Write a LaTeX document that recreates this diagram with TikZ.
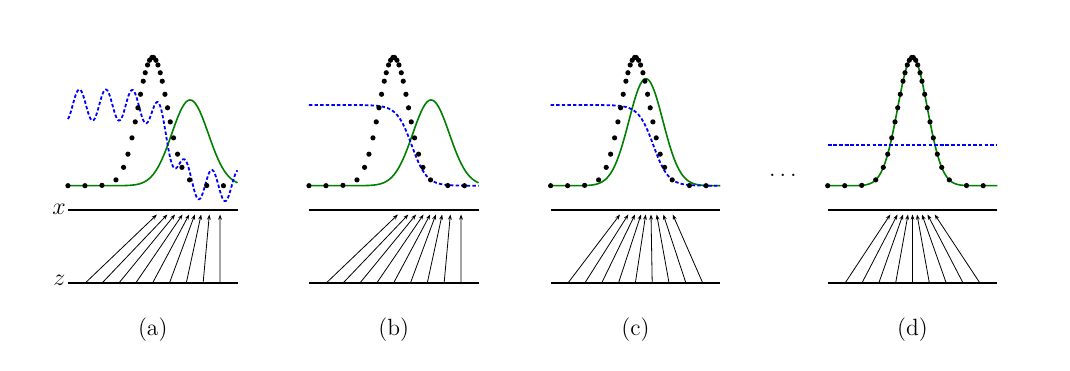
\documentclass[tikz,border=0pt]{standalone}
\usetikzlibrary{arrows.meta}
\definecolor{pgreen}{RGB}{0,128,0}
\definecolor{dblue}{RGB}{0,0,255}
\tikzset{
  axisline/.style={line width=0.95pt},
  genarrow/.style={line width=0.4pt,-{Stealth[length=2.6pt,width=1.9pt]}},
  pgcurve/.style={draw=pgreen,line width=0.8pt},
  dcurve/.style={draw=dblue,line width=0.9pt,dash pattern=on 1.7pt off 1.1pt},
  datadot/.style={fill=black},
  lbl/.style={font=\fontsize{11.75}{14}\selectfont,inner sep=0pt},
  varlbl/.style={font=\fontsize{12.5}{15}\selectfont,inner sep=0pt},
}
\def\datapts{-84.8,-67.8,-50.8,-36.8,-29.2,-24.8,-20.8,-17.5,-14.8,-12.2,-9.5,-7.5,-5.2,-3.2,-0.8,0.8,3.2,5.2,7.5,9.5,12.2,14.8,17.5,20.8,24.8,29.2,36.8,54,70.7}
\begin{document}
\begin{tikzpicture}[x=0.5pt,y=-0.5pt,
  declare function={
    gss(\va,\vb,\vc,\vd)=\vd*exp(max(-9,-0.5*((\va-\vb)/\vc)^2));
    dsc(\va)=80.7/(1+exp(max(-9,min(9,(\va-18)/7.5))));
  }]
\useasboundingbox (0,0) rectangle (1070,370);

% ---------- panel (a)
\begin{scope}[shift={(152.75,0)}]
  \draw[axisline] (-84.8,210) -- (84.8,210);
  \draw[axisline] (-84.8,282.7) -- (84.8,282.7);
  \draw[pgcurve] plot[domain=-84.8:84.8,samples=150] (\x,{185.7-gss(\x,37.3,18.3,85.7)});
  \draw[dcurve] plot[domain=-84.8:84.8,samples=300] (\x,{185.7-dsc(\x)-15.5*cos(13.585*(\x+73.4))});
  \foreach \u in \datapts {\fill[datadot] (\u,{185.7-gss(\u,0,14.8,128.4)}) circle[radius=1.3pt];}
  \foreach \s/\e [count=\i] in {-67.2/4.2,-50.4/14.6,-33.6/22.3,-16.8/29.8,0/36.4,16.8/42.1,33.6/48.4,50.4/56.6,67.2/67.3} {
    \coordinate (as\i) at (\s,282.7);
    \coordinate (ae\i) at (\e,214.5);
    \draw[genarrow] (as\i) -- (ae\i);
  }
  \node[lbl] (la) at (0,330) {(a)};
\end{scope}
\node[varlbl] (xlab) at (59,209.5) {$x$};
\node[varlbl] (zlab) at (59.3,280) {$z$};

% ---------- panel (b)
\begin{scope}[shift={(393.75,0)}]
  \draw[axisline] (-84.8,210) -- (84.8,210);
  \draw[axisline] (-84.8,282.7) -- (84.8,282.7);
  \draw[pgcurve] plot[domain=-84.8:84.8,samples=150] (\x,{185.7-gss(\x,37.3,18.3,85.7)});
  \draw[dcurve] plot[domain=-84.8:84.8,samples=150] (\x,{185.7-dsc(\x)});
  \foreach \u in \datapts {\fill[datadot] (\u,{185.7-gss(\u,0,14.8,128.4)}) circle[radius=1.3pt];}
  \foreach \s/\e [count=\i] in {-67.2/4.2,-50.4/14.6,-33.6/22.3,-16.8/29.8,0/36.4,16.8/42.1,33.6/48.4,50.4/56.6,67.2/67.3} {
    \coordinate (bs\i) at (\s,282.7);
    \coordinate (be\i) at (\e,214.5);
    \draw[genarrow] (bs\i) -- (be\i);
  }
  \node[lbl] (lb) at (0,330) {(b)};
\end{scope}

% ---------- panel (c)
\begin{scope}[shift={(635.4,0)}]
  \draw[axisline] (-84.8,210) -- (84.8,210);
  \draw[axisline] (-84.8,282.7) -- (84.8,282.7);
  \draw[pgcurve] plot[domain=-84.8:84.8,samples=150] (\x,{185.7-gss(\x,10.5,17,107)});
  \draw[dcurve] plot[domain=-84.8:84.8,samples=150] (\x,{185.7-dsc(\x)});
  \foreach \u in \datapts {\fill[datadot] (\u,{185.7-gss(\u,0,14.8,128.4)}) circle[radius=1.3pt];}
  \foreach \s/\e [count=\i] in {-67.2/-15.4,-50.4/-7.1,-33.6/-0.4,-16.8/5.6,0/10.3,16.8/15.6,33.6/21.3,50.4/27.9,67.2/37.3} {
    \coordinate (cs\i) at (\s,282.7);
    \coordinate (ce\i) at (\e,214.5);
    \draw[genarrow] (cs\i) -- (ce\i);
  }
  \node[lbl] (lc) at (0,330) {(c)};
\end{scope}

\node[lbl,anchor=base] (ellip) at (783,176.5) {$\dots$};

% ---------- panel (d)
\begin{scope}[shift={(912.5,0)}]
  \draw[axisline] (-84.8,210) -- (84.8,210);
  \draw[axisline] (-84.8,282.7) -- (84.8,282.7);
  \draw[pgcurve] plot[domain=-84.8:84.8,samples=150] (\x,{185.7-gss(\x,0,14.8,128.4)});
  \draw[dcurve] plot[domain=-84.8:84.8,samples=60] (\x,{145+0*\x});
  \foreach \u in \datapts {\fill[datadot] (\u,{185.7-gss(\u,0,14.8,128.4)}) circle[radius=1.3pt];}
  \foreach \s/\e [count=\i] in {-67.2/-22.2,-50.4/-15,-33.6/-9.5,-16.8/-4.5,0/0,16.8/4.5,33.6/9.5,50.4/15,67.2/22.2} {
    \coordinate (ds\i) at (\s,282.7);
    \coordinate (de\i) at (\e,214.5);
    \draw[genarrow] (ds\i) -- (de\i);
  }
  \node[lbl] (ld) at (0,330) {(d)};
\end{scope}
\end{tikzpicture}
\end{document}
